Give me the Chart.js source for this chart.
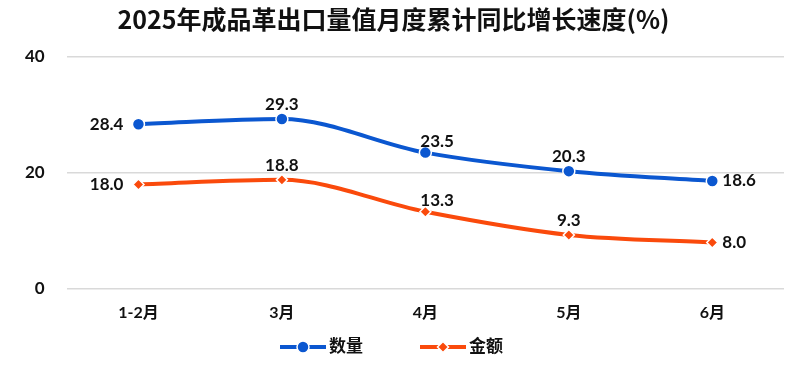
<!DOCTYPE html>
<html>
<head>
<meta charset="utf-8">
<script src="https://cdn.jsdelivr.net/npm/chart.js@4"></script>
<style>
  html, body { margin: 0; padding: 0; background: #fff; }
  #wrap { width: 800px; height: 369px; position: relative; }
</style>
</head>
<body>
<div id="wrap"><canvas id="c"></canvas></div>
<script>
const categories = ['1-2月', '3月', '4月', '5月', '6月'];
const quantity = [28.4, 29.3, 23.5, 20.3, 18.6];
const amount = [18.0, 18.8, 13.3, 9.3, 8.0];
const yTicks = [0, 20, 40];

const FONT = "Lato, 'Noto Sans CJK SC', sans-serif";
const BLUE = '#0b57d0';
const ORANGE = '#fa4a0c';

// where each data label sits relative to its point
const quantityLabelPos = ['left', 'top', 'topright', 'top', 'right'];
const amountLabelPos = ['left', 'top', 'topright', 'top', 'right'];

const labelPlugin = {
  id: 'pointLabels',
  afterDatasetsDraw(chart) {
    const ctx = chart.ctx;
    ctx.save();
    ctx.font = 'bold 17px ' + FONT;
    ctx.fillStyle = '#111';
    chart.data.datasets.forEach((ds, i) => {
      const meta = chart.getDatasetMeta(i);
      const pos = ds.labelPos;
      meta.data.forEach((pt, j) => {
        const txt = ds.data[j].toFixed(1);
        let x = pt.x, y = pt.y;
        const p = pos[j];
        if (p === 'left') { ctx.textAlign = 'right'; ctx.textBaseline = 'middle'; x -= 15; }
        else if (p === 'right') { ctx.textAlign = 'left'; ctx.textBaseline = 'middle'; x += 10; }
        else if (p === 'topright') { ctx.textAlign = 'left'; ctx.textBaseline = 'bottom'; x -= 5; y -= 3; }
        else { ctx.textAlign = 'center'; ctx.textBaseline = 'bottom'; y -= 6; }
        ctx.fillText(txt, x, y);
      });
    });
    ctx.restore();
  }
};

// legend: line with marker in the middle, then the name
function drawMarker(ctx, style, x, y, r, color) {
  ctx.fillStyle = color;
  ctx.strokeStyle = '#fff';
  ctx.lineWidth = 1.5;
  ctx.beginPath();
  if (style === 'circle') {
    ctx.arc(x, y, r, 0, Math.PI * 2);
  } else {
    ctx.moveTo(x, y - r); ctx.lineTo(x + r, y); ctx.lineTo(x, y + r); ctx.lineTo(x - r, y); ctx.closePath();
  }
  ctx.fill();
  ctx.stroke();
}

const legendPlugin = {
  id: 'lineLegend',
  afterDraw(chart) {
    const ctx = chart.ctx;
    const y = 347;
    let x = chart.width / 2 - 120;
    ctx.save();
    ctx.font = 'bold 17px ' + FONT;
    ctx.textBaseline = 'middle';
    ctx.textAlign = 'left';
    chart.data.datasets.forEach(ds => {
      ctx.strokeStyle = ds.borderColor;
      ctx.lineWidth = 4;
      ctx.beginPath();
      ctx.moveTo(x, y); ctx.lineTo(x + 46, y);
      ctx.stroke();
      drawMarker(ctx, ds.pointStyle, x + 23, y, ds.pointStyle === 'circle' ? 6 : 5.5, ds.borderColor);
      ctx.fillStyle = '#111';
      ctx.fillText(ds.label, x + 49, y);
      x += 140;
    });
    ctx.restore();
  }
};

new Chart(document.getElementById('c'), {
  type: 'line',
  data: {
    labels: categories,
    datasets: [{
      label: '数量',
      data: quantity,
      labelPos: quantityLabelPos,
      borderColor: BLUE,
      backgroundColor: BLUE,
      borderWidth: 4,
      cubicInterpolationMode: 'monotone',
      pointStyle: 'circle',
      pointRadius: 6,
      pointBorderColor: '#fff',
      pointBorderWidth: 1.5
    }, {
      label: '金额',
      data: amount,
      labelPos: amountLabelPos,
      borderColor: ORANGE,
      backgroundColor: ORANGE,
      borderWidth: 4,
      cubicInterpolationMode: 'monotone',
      pointStyle: 'rectRot',
      pointRadius: 5.5,
      pointBorderColor: '#fff',
      pointBorderWidth: 1.5
    }]
  },
  options: {
    responsive: true,
    maintainAspectRatio: false,
    animation: false,
    layout: { padding: { left: 3, right: 16, top: 0, bottom: 41 } },
    plugins: {
      title: {
        display: true,
        text: '2025年成品革出口量值月度累计同比增长速度(%)',
        color: '#111',
        font: { family: "'Noto Sans CJK SC', sans-serif", size: 25, weight: 'bold' },
        padding: { top: 4, bottom: 23 }
      },
      legend: { display: false },
      tooltip: { enabled: false }
    },
    scales: {
      x: {
        offset: true,
        grid: { display: false },
        border: { display: false },
        ticks: { color: '#111', font: { family: FONT, size: 16, weight: 'bold' }, padding: 6 }
      },
      y: {
        min: 0,
        max: 40,
        afterBuildTicks(axis) { axis.ticks = yTicks.map(v => ({ value: v })); },
        grid: { color: '#d9d9d9', lineWidth: 1.5, drawTicks: false },
        border: { display: false },
        ticks: { color: '#111', font: { family: FONT, size: 17, weight: 'bold' }, padding: 22 }
      }
    }
  },
  plugins: [labelPlugin, legendPlugin]
});
</script>
</body>
</html>
